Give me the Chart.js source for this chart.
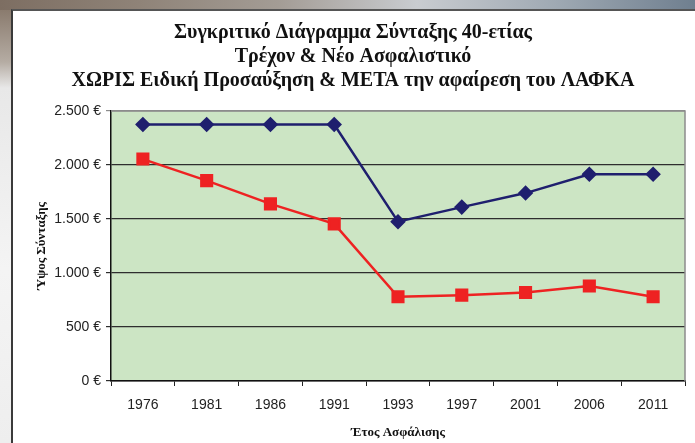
<!DOCTYPE html>
<html>
<head>
<meta charset="utf-8">
<script src="https://cdn.jsdelivr.net/npm/chart.js@4.4.1/dist/chart.umd.min.js"></script>
<style>
  html, body { margin: 0; padding: 0; }
  body { width: 695px; height: 443px; position: relative; overflow: hidden; background: #fff; }
  #topband { position: absolute; left: 0; top: 0; width: 695px; height: 10px;
    background: linear-gradient(90deg, #7d6e62 0%, #8f8378 20%, #a39c95 40%, #c9ccd0 60%, #9fa9b3 80%, #6f7f8f 100%); }
  #leftband { position: absolute; left: 0; top: 10px; width: 11px; height: 433px;
    background: linear-gradient(180deg, #8a7b6e 0%, #b5aca3 12%, #e8e8e8 18%, #f4f4f4 60%, #eeeeee 100%); }
  #panel { position: absolute; left: 11px; top: 9px; width: 684px; height: 434px; background: #fff;
    border-left: 2px solid #3a3a3a; border-top: 2px solid #555; box-sizing: border-box; }
  #wrap { position: absolute; left: 0; top: 0; width: 695px; height: 443px; }
</style>
</head>
<body>
<div id="topband"></div>
<div id="leftband"></div>
<div id="panel"></div>
<div id="wrap"><canvas id="c" width="695" height="443"></canvas></div>
<script>
const titleLines = [
  'Συγκριτικό Διάγραμμα Σύνταξης 40-ετίας',
  'Τρέχον & Νέο Ασφαλιστικό',
  'ΧΩΡΙΣ Ειδική Προσαύξηση & ΜΕΤΑ την αφαίρεση του ΛΑΦΚΑ'
];
const years = ['1976','1981','1986','1991','1993','1997','2001','2006','2011'];
const currentSystem = [2375, 2375, 2375, 2375, 1475, 1610, 1740, 1915, 1915];
const newSystem = [2055, 1855, 1640, 1455, 780, 795, 820, 880, 780];
const yTicks = [0, 500, 1000, 1500, 2000, 2500];
const xTitle = 'Έτος Ασφάλισης';
const yTitle = 'Ύψος Σύνταξης';

const plotBg = {
  id: 'plotBg',
  beforeDraw(chart) {
    const { ctx, chartArea: a } = chart;
    ctx.save();
    ctx.fillStyle = '#cce5c4';
    ctx.fillRect(a.left, a.top, a.right - a.left, a.bottom - a.top);
    ctx.restore();
  },
  afterDatasetsDraw(chart) {
    const { ctx, chartArea: a } = chart;
    ctx.save();
    ctx.strokeStyle = '#8c8c8c';
    ctx.lineWidth = 1.5;
    ctx.beginPath();
    ctx.moveTo(a.left, a.top);
    ctx.lineTo(a.right, a.top);
    ctx.lineTo(a.right, a.bottom);
    ctx.stroke();
    ctx.restore();
  }
};

function fmtEuro(v) {
  return v.toString().replace(/\B(?=(\d{3})+(?!\d))/g, '.') + ' €';
}

new Chart(document.getElementById('c'), {
  type: 'line',
  data: {
    labels: years,
    datasets: [
      {
        label: 'Τρέχον',
        data: currentSystem,
        borderColor: '#1f1f6e',
        backgroundColor: '#1f1f6e',
        borderWidth: 2.5,
        pointStyle: 'rectRot',
        pointRadius: 6,
        pointHoverRadius: 6,
        tension: 0
      },
      {
        label: 'Νέο',
        data: newSystem,
        borderColor: '#ee2222',
        backgroundColor: '#ee2222',
        borderWidth: 2.5,
        pointStyle: 'rect',
        pointRadius: 7.5,
        pointHoverRadius: 7.5,
        tension: 0
      }
    ]
  },
  options: {
    responsive: false,
    animation: false,
    devicePixelRatio: 1,
    layout: { padding: { left: 20, right: 9, top: 21, bottom: 0 } },
    plugins: {
      legend: { display: false },
      tooltip: { enabled: false },
      title: {
        display: true,
        text: titleLines,
        color: '#111',
        font: { family: '"Liberation Serif", "Times New Roman", serif', size: 20, weight: 'bold', lineHeight: 1.2 },
        padding: { top: 0, bottom: 18 }
      }
    },
    scales: {
      x: {
        offset: true,
        grid: { offset: true, drawOnChartArea: false, drawTicks: true, tickLength: 5, color: '#222', lineWidth: 1 },
        border: { display: true, color: '#111', width: 1.5 },
        ticks: { color: '#222', padding: 11, font: { family: '"Liberation Sans", Arial, sans-serif', size: 14 }, maxRotation: 0, autoSkip: false },
        title: { display: true, text: xTitle, color: '#111', padding: { top: 4, bottom: 3 },
          font: { family: '"Liberation Serif", "Times New Roman", serif', size: 13, weight: 'bold' } },
        afterFit(scale) { scale.height = 62; }
      },
      y: {
        min: 0, max: 2500,
        afterBuildTicks(scale) { scale.ticks = yTicks.map(v => ({ value: v })); },
        grid: {
          drawTicks: true, tickLength: 5,
          color: ctx => (ctx.tick && ctx.tick.value === 2500) ? '#8c8c8c' : '#2e2e2e',
          lineWidth: 1.2
        },
        border: { display: true, color: '#111', width: 1.5 },
        ticks: { color: '#222', padding: 5, font: { family: '"Liberation Sans", Arial, sans-serif', size: 14 }, callback: v => fmtEuro(v) },
        title: { display: true, text: yTitle, color: '#111', padding: { top: 14, bottom: 0 },
          font: { family: '"Liberation Serif", "Times New Roman", serif', size: 13, weight: 'bold' } },
        afterFit(scale) { scale.width = 91; }
      }
    }
  },
  plugins: [plotBg]
});
</script>
</body>
</html>
